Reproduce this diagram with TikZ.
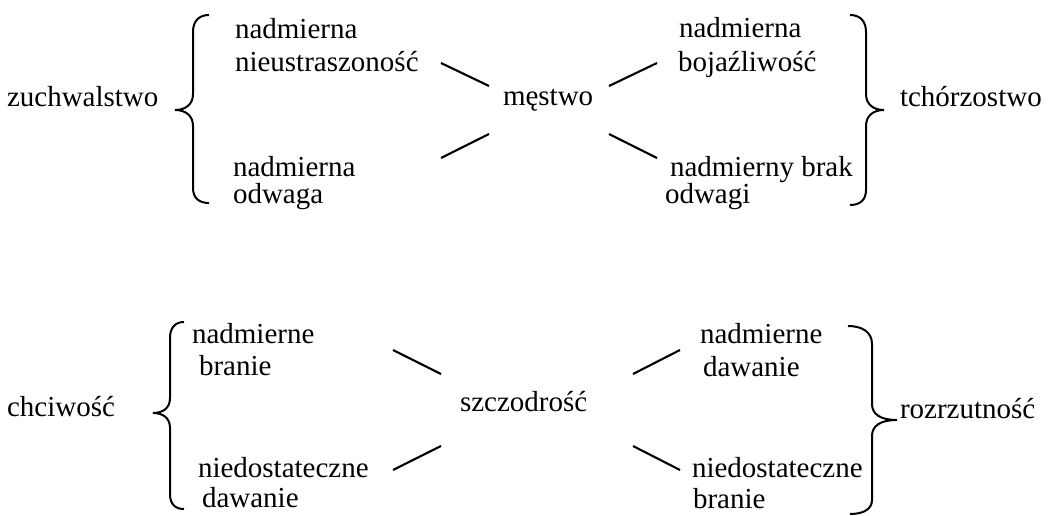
\documentclass[tikz,border=0pt]{standalone}
\usepackage{fontspec}
\setmainfont{Liberation Serif}
\begin{document}
\begin{tikzpicture}[x=1pt,y=-1pt,
  lbl/.style={inner sep=0pt,outer sep=0pt,anchor=base west,font=\fontsize{29}{33}\selectfont},
  conn/.style={line width=2.1pt},
  bracepath/.style={line width=2pt}]
\useasboundingbox (0,0) rectangle (1050,516);
% ---------- top group ----------
\node[lbl] (zuch) at (7,107) {zuchwalstwo};
\node[lbl] (tl1) at (235,39) {nadmierna};
\node[lbl] (tl2) at (235,72) {nieustraszoność};
\node[lbl] (bl1) at (233,176) {nadmierna};
\node[lbl] (bl2) at (233,204) {odwaga};
\node[lbl] (mest) at (503,106) {męstwo};
\node[lbl] (tr1) at (679,38) {nadmierna};
\node[lbl] (tr2) at (678,72) {bojaźliwość};
\node[lbl] (br1) at (670,177) {nadmierny brak};
\node[lbl] (br2) at (665,204) {odwagi};
\node[lbl] (tcho) at (900,107) {tchórzostwo};
\coordinate (a1) at (441,63);  \coordinate (a2) at (489,86);
\coordinate (b1) at (441,158); \coordinate (b2) at (489,134);
\coordinate (c1) at (609,86);  \coordinate (c2) at (657,63);
\coordinate (d1) at (609,134); \coordinate (d2) at (657,158);
\draw[conn] (a1) -- (a2);
\draw[conn] (b1) -- (b2);
\draw[conn] (c1) -- (c2);
\draw[conn] (d1) -- (d2);
% left brace top
\draw[bracepath] (209,15) .. controls (199,15) and (193,21) .. (193,32) -- (193,94)
  .. controls (193,104) and (186,110) .. (175,110)
  .. controls (186,110) and (193,116) .. (193,126) -- (193,188)
  .. controls (193,198) and (199,203) .. (209,203);
% right brace top
\draw[bracepath] (850,15) .. controls (860,15) and (866,21) .. (866,32) -- (866,94)
  .. controls (866,104) and (873,110) .. (884,110)
  .. controls (873,110) and (866,116) .. (866,126) -- (866,190)
  .. controls (866,200) and (860,205) .. (850,205);
% ---------- bottom group ----------
\node[lbl] (chci) at (7,416) {chciwość};
\node[lbl] (l1) at (192,343) {nadmierne};
\node[lbl] (l2) at (199,375) {branie};
\node[lbl] (l3) at (198,477) {niedostateczne};
\node[lbl] (l4) at (202,507) {dawanie};
\node[lbl] (szcz) at (460,411) {szczodrość};
\node[lbl] (r1) at (700,343) {nadmierne};
\node[lbl] (r2) at (703,376) {dawanie};
\node[lbl] (r3) at (692,477) {niedostateczne};
\node[lbl] (r4) at (693,508) {branie};
\node[lbl] (rozr) at (900,418) {rozrzutność};
\coordinate (e1) at (393,350); \coordinate (e2) at (441,374);
\coordinate (f1) at (393,470); \coordinate (f2) at (441,446);
\coordinate (g1) at (633,374); \coordinate (g2) at (680,350);
\coordinate (h1) at (633,446); \coordinate (h2) at (680,470);
\draw[conn] (e1) -- (e2);
\draw[conn] (f1) -- (f2);
\draw[conn] (g1) -- (g2);
\draw[conn] (h1) -- (h2);
% left brace bottom
\draw[bracepath] (184,322) .. controls (175,322) and (170,328) .. (170,338) -- (170,398)
  .. controls (170,408) and (163,413) .. (153,413)
  .. controls (163,413) and (170,418) .. (170,428) -- (170,494)
  .. controls (170,504) and (175,509) .. (184,509);
% right brace bottom
\draw[bracepath] (848,326) .. controls (862,326) and (872,332) .. (872,344) -- (872,404)
  .. controls (872,414) and (880,420) .. (897,420)
  .. controls (880,420) and (872,426) .. (872,436) -- (872,500)
  .. controls (872,510) and (862,514) .. (850,514);
\end{tikzpicture}
\end{document}
